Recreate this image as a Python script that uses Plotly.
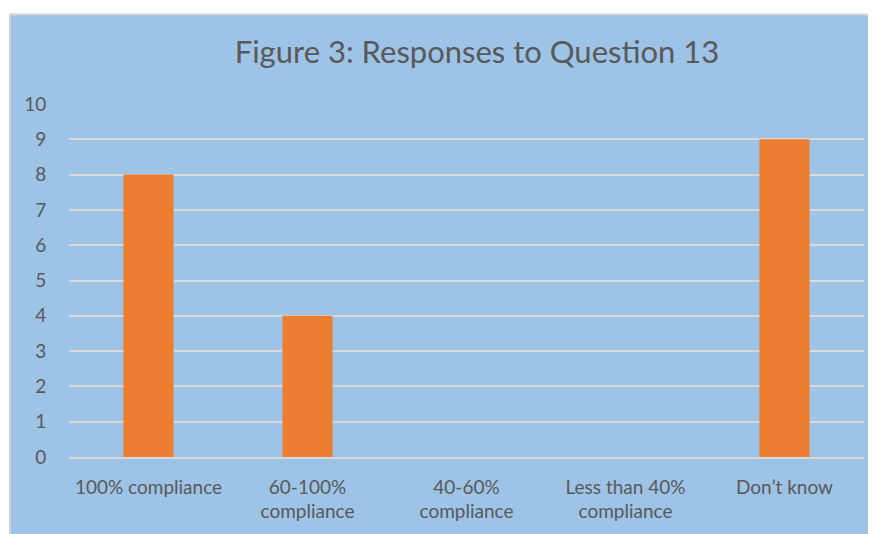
import plotly.graph_objects as go

categories = ["100% compliance", "60-100%<br>compliance", "40-60%<br>compliance",
              "Less than 40%<br>compliance", "Don\u2019t know"]
values = [8, 4, 0, 0, 9]
y_ticks = list(range(0, 11))

OFF = 8  # page body margin
W, H = 876 - OFF, 534 - OFF
L = 69 - OFF
R = W - (864 - OFF)
T = 104 - OFF
B = H - (459 - OFF)
pw, ph = W - L - R, H - T - B

def px_x(p):
    return (p - OFF - L) / pw

def px_y(p):
    return (H - B - (p - OFF)) / ph

fig = go.Figure(go.Bar(x=categories, y=values, marker_color="#ED7D31",
                       marker_line_width=0, width=0.315))

fig.update_layout(
    width=W, height=H,
    margin=dict(l=L, r=R, t=T, b=B),
    paper_bgcolor="white",
    plot_bgcolor="rgba(0,0,0,0)",
    font=dict(family="Lato", color="#595959", size=19),
    title=dict(text="Figure 3: Responses to Question 13",
               font=dict(family="Lato", size=31, color="#595959"),
               x=px_x(477), xref="paper", xanchor="center",
               y=1 - (52 - OFF) / H, yref="container", yanchor="middle"),
    showlegend=False,
    shapes=[dict(type="rect", xref="paper", yref="paper",
                 x0=px_x(10), x1=px_x(885), y0=px_y(545), y1=px_y(14),
                 fillcolor="#9DC3E6", line=dict(color="#D0D5DB", width=2),
                 layer="below")],
)
fig.update_yaxes(range=[0, 10], tickvals=y_ticks, showgrid=True,
                 gridcolor="#D9D9D9", gridwidth=1.5, zeroline=False,
                 ticks="outside", ticklen=18, tickcolor="rgba(0,0,0,0)",
                 showline=False)
fig.update_xaxes(showgrid=False, ticks="outside", ticklen=12,
                 tickcolor="rgba(0,0,0,0)", showline=True,
                 linecolor="#D9D9D9", linewidth=1.5)

fig.write_html("out.html")
